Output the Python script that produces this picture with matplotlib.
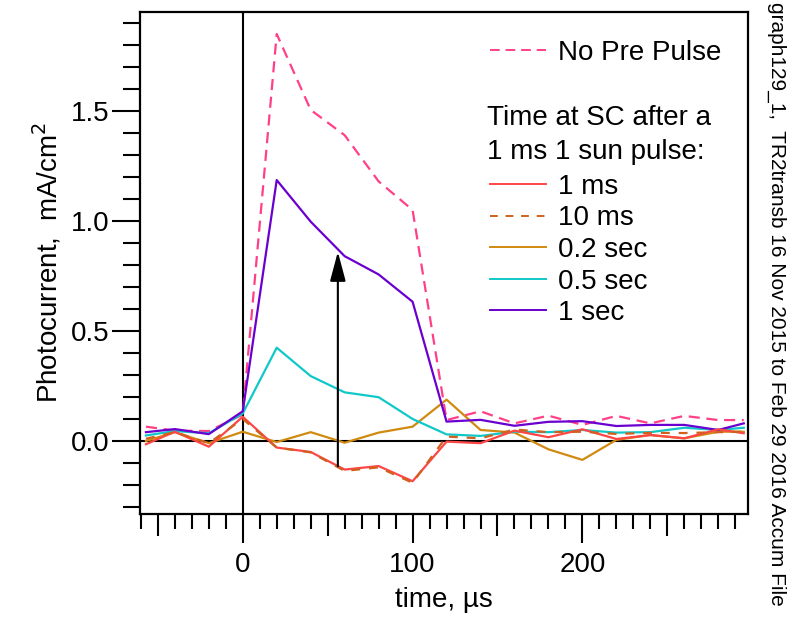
import matplotlib
matplotlib.use("Agg")
import matplotlib.pyplot as plt
from matplotlib.lines import Line2D
from matplotlib.ticker import MultipleLocator, FuncFormatter

plt.rcParams['font.family'] = ['Liberation Sans', 'DejaVu Sans']

# ---- data ----
time_us = [-57, -40, -20, 0, 20, 40, 60, 80, 100, 120, 140, 160, 180, 200, 220, 240, 260, 280, 295]
no_pre_pulse = [0.065, 0.047, 0.045, 0.12, 1.85, 1.505, 1.39, 1.18, 1.05, 0.095, 0.135, 0.08, 0.115, 0.073, 0.114, 0.08, 0.114, 0.095, 0.095]
sc_1ms = [-0.015, 0.042, -0.026, 0.11, -0.03, -0.05, -0.13, -0.114, -0.183, -0.003, -0.01, 0.047, 0.017, 0.053, 0.009, 0.027, 0.012, 0.053, 0.035]
sc_10ms = [0.01, 0.04, -0.01, 0.1, -0.03, -0.052, -0.136, -0.12, -0.19, 0.02, 0.012, 0.052, 0.04, 0.042, 0.032, 0.037, 0.036, 0.04, 0.042]
sc_02s = [0.0, 0.04, -0.01, 0.042, -0.005, 0.04, -0.008, 0.038, 0.065, 0.188, 0.05, 0.038, -0.038, -0.086, 0.005, 0.027, 0.012, 0.042, 0.042]
sc_05s = [0.025, 0.045, 0.035, 0.125, 0.424, 0.295, 0.221, 0.199, 0.1, 0.03, 0.023, 0.042, 0.04, 0.05, 0.038, 0.04, 0.06, 0.05, 0.06]
sc_1s = [0.04, 0.054, 0.031, 0.135, 1.186, 0.997, 0.84, 0.757, 0.633, 0.088, 0.096, 0.069, 0.087, 0.09, 0.068, 0.073, 0.073, 0.05, 0.08]

series_labels = ["1 ms", "10 ms", "0.2 sec", "0.5 sec", "1 sec"]
ref_label = "No Pre Pulse"
header_lines = ["Time at SC after a", "1 ms 1 sun pulse:"]

arrow_x = 56
arrow_y0 = -0.115
arrow_y1 = 0.86

side_note = "graph129_1,  TR2transb 16 Nov 2015 to Feb 29 2016 Accum File"

# ---- figure ----
FS = 20
fig = plt.figure(figsize=(7.95, 6.19), dpi=100)
ax = fig.add_axes([140/795, 105/619, 608/795, 502/619])

c_pink = '#FF4088'
c_red = '#FF4646'
c_brown = '#D0601E'
c_gold = '#D08A10'
c_cyan = '#10C8C8'
c_purple = '#6A00D0'
lw = 1.6

ax.axhline(0, color='black', lw=1.5, zorder=1)
ax.axvline(0, color='black', lw=1.5, zorder=1)

ax.plot(time_us, no_pre_pulse, color=c_pink, lw=lw, ls=(0, (5, 3)), zorder=2)
ax.plot(time_us, sc_02s, color=c_gold, lw=lw, zorder=3)
ax.plot(time_us, sc_05s, color=c_cyan, lw=lw, zorder=3)
ax.plot(time_us, sc_1s, color=c_purple, lw=lw, zorder=3)
ax.plot(time_us, sc_1ms, color=c_red, lw=lw, zorder=4)
ax.plot(time_us, sc_10ms, color=c_brown, lw=lw, ls=(0, (4, 4)), zorder=4)

ax.annotate('', xy=(arrow_x, arrow_y1), xytext=(arrow_x, arrow_y0),
            arrowprops=dict(arrowstyle='-|>,head_length=0.9,head_width=0.24',
                            mutation_scale=20, lw=1.5, color='black',
                            shrinkA=0, shrinkB=0), zorder=5)

ax.set_xlim(-60.5, 297.5)
ax.set_ylim(-0.332, 1.95)

for s in ax.spines.values():
    s.set_linewidth(1.6)

ax.xaxis.set_major_locator(MultipleLocator(50))
ax.xaxis.set_minor_locator(MultipleLocator(10))
ax.xaxis.set_major_formatter(FuncFormatter(lambda v, p: f"{v:.0f}" if abs(v % 100) < 1e-6 else ""))
ax.yaxis.set_major_locator(MultipleLocator(0.5))
ax.yaxis.set_minor_locator(MultipleLocator(0.1))
ax.yaxis.set_major_formatter(FuncFormatter(lambda v, p: f"{v:.1f}"))

ax.tick_params(axis='x', which='major', direction='out', length=16, width=1.5, labelsize=FS, pad=11)
ax.tick_params(axis='x', which='minor', direction='out', length=11, width=1.5)
ax.tick_params(axis='y', which='major', direction='out', length=20, width=1.5, labelsize=FS, pad=2)
ax.tick_params(axis='y', which='minor', direction='out', length=12, width=1.5)
ax.tick_params(top=False, right=False)

fig.canvas.draw()
for t in ax.xaxis.get_major_ticks():
    if abs(t.get_loc() % 100) < 1e-6:
        t.tick1line.set_markersize(21)

ax.set_xlabel("time, µs", fontsize=FS, labelpad=7)
ax.set_ylabel("Photocurrent,  mA/cm$^2$", fontsize=FS, labelpad=5)

# legends
h_ref = [Line2D([], [], color=c_pink, lw=1.4, ls=(0, (5, 3)))]
leg1 = ax.legend(h_ref, [ref_label], loc='center left', bbox_to_anchor=(0.576, 0.918),
                 frameon=False, fontsize=FS, handlelength=2.0, handletextpad=0.45,
                 borderpad=0, borderaxespad=0)
ax.add_artist(leg1)

ax.text(0.571, 0.789, header_lines[0], transform=ax.transAxes, fontsize=FS, va='center', ha='left')
ax.text(0.571, 0.722, header_lines[1], transform=ax.transAxes, fontsize=FS, va='center', ha='left')

handles = [Line2D([], [], color=c_red, lw=1.4),
           Line2D([], [], color=c_brown, lw=1.4, ls=(0, (4, 4))),
           Line2D([], [], color=c_gold, lw=1.4),
           Line2D([], [], color=c_cyan, lw=1.4),
           Line2D([], [], color=c_purple, lw=1.4)]
ax.legend(handles, series_labels, loc='center left', bbox_to_anchor=(0.576, 0.526),
          frameon=False, fontsize=FS, handlelength=2.0, handletextpad=0.45,
          labelspacing=0.2, borderpad=0, borderaxespad=0)

fig.text(0.977, 0.997, side_note, rotation=-90, ha='center', va='top', fontsize=15)

fig.savefig("out.png", dpi=100)
